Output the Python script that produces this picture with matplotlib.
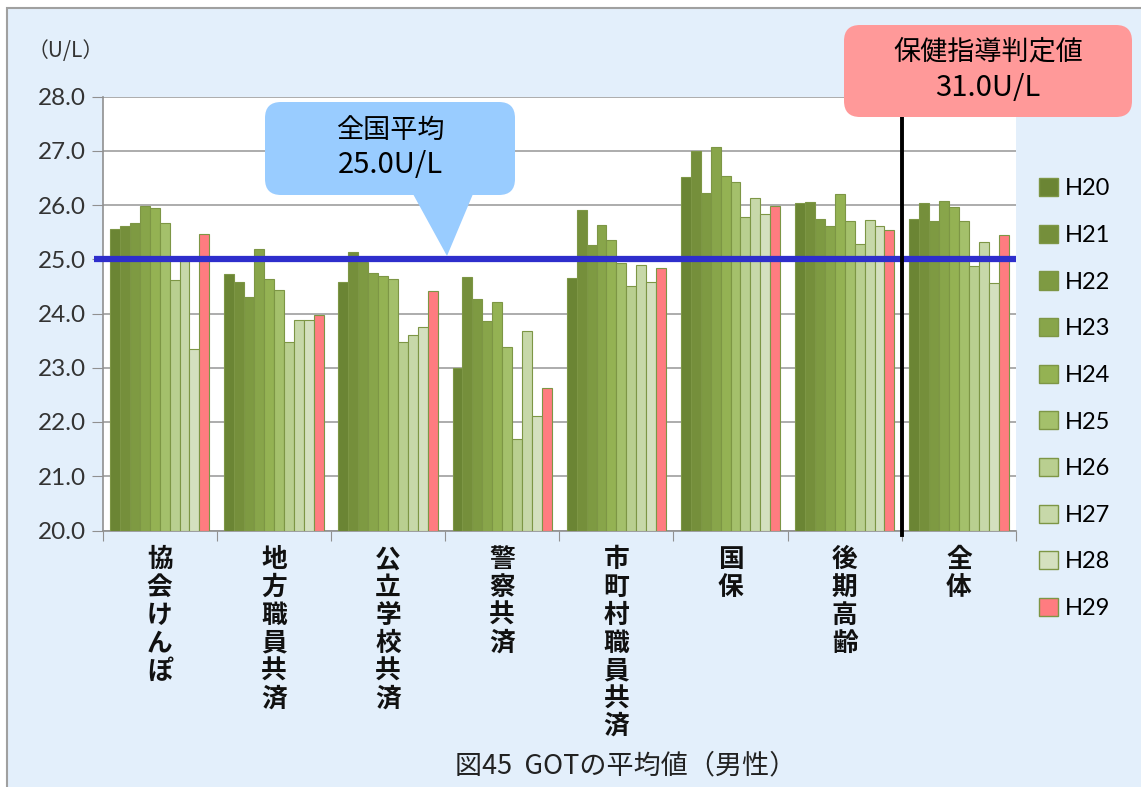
import matplotlib
matplotlib.use("Agg")
import matplotlib.pyplot as plt
import matplotlib.transforms as mtransforms
from matplotlib.patches import FancyBboxPatch, Polygon, Rectangle, Patch
import numpy as np

plt.rcParams['font.family'] = ['Noto Sans CJK JP', 'DejaVu Sans']

# data (U/L)
groups = ['協会けんぽ', '地方職員共済', '公立学校共済', '警察共済', '市町村職員共済', '国保', '後期高齢', '全体']
years = ['H20', 'H21', 'H22', 'H23', 'H24', 'H25', 'H26', 'H27', 'H28', 'H29']
kyokai = [25.56, 25.61, 25.66, 25.98, 25.94, 25.66, 24.61, 24.96, 23.35, 25.46]
chiho = [24.72, 24.58, 24.31, 25.19, 24.63, 24.44, 23.48, 23.88, 23.88, 23.98]
koritsu = [24.58, 25.13, 24.95, 24.75, 24.70, 24.63, 23.48, 23.61, 23.75, 24.41]
keisatsu = [23.00, 24.67, 24.26, 23.86, 24.21, 23.39, 21.68, 23.67, 22.11, 22.62]
shichoson = [24.66, 25.90, 25.26, 25.63, 25.36, 24.93, 24.51, 24.90, 24.58, 24.83]
kokuho = [26.51, 27.00, 26.23, 27.06, 26.53, 26.42, 25.78, 26.13, 25.83, 25.98]
koki = [26.04, 26.06, 25.75, 25.61, 26.20, 25.70, 25.28, 25.72, 25.61, 25.53]
zentai = [25.75, 26.04, 25.71, 26.08, 25.96, 25.70, 24.88, 25.31, 24.56, 25.44]
national_avg = 25.0

values = np.array([kyokai, chiho, koritsu, keisatsu, shichoson, kokuho, koki, zentai])
colors = ['#6B8534', '#758F3B', '#7E9A42', '#88A54A', '#94B253',
          '#A4C06B', '#B9CF90', '#C7D8A9', '#D4E0BF', '#FF7C80']

W, H = 1141, 787
fig = plt.figure(figsize=(W / 100, H / 100), dpi=100, facecolor='white')
# pixel coords, origin top-left
px = mtransforms.Affine2D().scale(1 / W, -1 / H).translate(0, 1) + fig.transFigure

fig.add_artist(Rectangle((7, 8), W, H, transform=px, facecolor='#E3EFFB',
                         edgecolor='#A0A0A0', lw=1.5, zorder=-10))

ax = fig.add_axes([102.6 / W, 1 - 530.5 / H, (1016 - 102.6) / W, (530.5 - 96.5) / H])
ax.set_facecolor('white')

nb = len(years)
bw = 1 / (nb + 1.5)
x = np.arange(len(groups))
for j in range(nb):
    ax.bar(x + (j - (nb - 1) / 2) * bw, values[:, j] - 20, bw, bottom=20,
           color=colors[j], edgecolor='#7D9645', linewidth=0.8, zorder=3, label=years[j])

ax.set_ylim(20, 28)
ax.set_xlim(-0.5, len(groups) - 0.5)
ax.set_yticks(np.arange(20, 28.5, 1))
ax.set_yticklabels(['%.1f' % v for v in np.arange(20, 28.5, 1)],
                   fontsize=17.5, color='#333333', family=['Lato', 'DejaVu Sans'])
ax.yaxis.grid(True, color='#A6A6A6', lw=1.3, zorder=0)
ax.set_xticks(np.arange(-0.5, len(groups), 1))
ax.set_xticklabels([])
ax.tick_params(axis='y', length=8, color='#909090', pad=4)
ax.tick_params(axis='x', length=7, color='#909090')
for s in ['top', 'right']:
    ax.spines[s].set_visible(False)
for s in ['left', 'bottom']:
    ax.spines[s].set_color('#909090')
    ax.spines[s].set_linewidth(1.2)

# vertical category labels
lab_tr = mtransforms.blended_transform_factory(ax.transData, ax.transAxes)
for i, g in enumerate(groups):
    ax.text(i, -0.036, '\n'.join(g), transform=lab_tr, ha='center', va='top',
            fontsize=18.5, fontweight='bold', linespacing=1.04, color='#111111')

# national average line
ax.plot([-0.575, len(groups) - 0.5], [national_avg, national_avg], color='#2E2ECC',
        lw=4.5, zorder=5, clip_on=False, solid_capstyle='butt')
# separator before 全体
ax.plot([6.5, 6.5], [19.92, 27.62], color='black', lw=2.8, zorder=6, clip_on=False)

fig.text(28, 51, '（U/L）', transform=px, fontsize=15, color='#333333', ha='left', va='center')

# legend
handles = [Patch(facecolor=colors[j], edgecolor='#7D9645', label=years[j]) for j in range(nb)]
fig.legend(handles=handles, loc='upper left', bbox_to_anchor=(1018 / W, 1 - 157 / H),
           frameon=False, handlelength=0.8, handleheight=0.8,
           handletextpad=0.3, labelspacing=1.075, prop={'family': ['Lato', 'DejaVu Sans'], 'size': 17})

# callouts
fig.add_artist(FancyBboxPatch((265, 102), 250, 93, boxstyle='round,pad=0,rounding_size=16',
                              transform=px, facecolor='#99CCFF', edgecolor='none', zorder=7))
fig.add_artist(Polygon([(413, 194), (473, 194), (447, 256)], closed=True, transform=px,
                       facecolor='#99CCFF', edgecolor='none', zorder=7))
fig.text(390, 130, '全国平均', transform=px, ha='center', va='center', fontsize=19.5, zorder=8)
fig.text(390, 165, '%.1fU/L' % national_avg, transform=px, ha='center', va='center',
         fontsize=21, zorder=8)

fig.add_artist(FancyBboxPatch((844, 25), 288, 92, boxstyle='round,pad=0,rounding_size=16',
                              transform=px, facecolor='#FF9999', edgecolor='none', zorder=7))
fig.text(988, 52, '保健指導判定値', transform=px, ha='center', va='center', fontsize=19.5, zorder=8)
fig.text(988, 88, '31.0U/L', transform=px, ha='center', va='center', fontsize=21, zorder=8)

fig.text(626, 766, '図45  GOTの平均値（男性）', transform=px, ha='center', va='center',
         fontsize=19.5, color='#222222')

fig.savefig('out.png', dpi=100, facecolor=fig.get_facecolor())
